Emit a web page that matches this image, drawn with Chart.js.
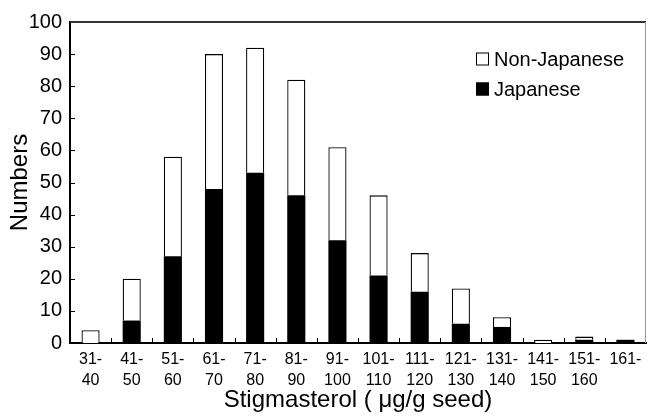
<!DOCTYPE html>
<html>
<head>
<meta charset="utf-8">
<script src="https://cdn.jsdelivr.net/npm/chart.js@4.4.1/dist/chart.umd.min.js"></script>
<style>
  html, body { margin: 0; padding: 0; background: #fff; }
  #wrap { width: 648px; height: 418px; }
</style>
</head>
<body>
<div id="wrap"><canvas id="chart" width="648" height="418"></canvas></div>
<script>
const ranges = [
  ["31-", "40"], ["41-", "50"], ["51-", "60"], ["61-", "70"], ["71-", "80"],
  ["81-", "90"], ["91-", "100"], ["101-", "110"], ["111-", "120"], ["121-", "130"],
  ["131-", "140"], ["141-", "150"], ["151-", "160"], ["161-", ""]
];
const japanese = [0, 7, 27, 48, 53, 46, 32, 21, 16, 6, 5, 0, 1, 1];
const nonJapanese = [4, 13, 31, 42, 39, 36, 29, 25, 12, 11, 3, 1, 1, 0];
const yTicks = [0, 10, 20, 30, 40, 50, 60, 70, 80, 90, 100];

const FONT = "'Liberation Sans', Arial, Helvetica, sans-serif";

// inward tick marks, top/right frame and the legend box
const framePlugin = {
  id: "frame",
  afterDraw(chart) {
    const ctx = chart.ctx;
    const { left, right, top, bottom } = chart.chartArea;
    const x = chart.scales.x;
    const y = chart.scales.y;
    ctx.save();
    ctx.strokeStyle = "#000";
    ctx.lineWidth = 1;
    ctx.beginPath();
    for (let i = 1; i < ranges.length; i++) {
      const px = Math.round(x.getPixelForValue(i - 0.5)) + 0.5;
      ctx.moveTo(px, bottom);
      ctx.lineTo(px, bottom - 5);
    }
    yTicks.forEach(v => {
      const py = Math.round(y.getPixelForValue(v)) + 0.5;
      ctx.moveTo(left, py);
      ctx.lineTo(left + 5, py);
    });
    ctx.stroke();

    ctx.strokeStyle = "#333";
    ctx.lineWidth = 2;
    ctx.beginPath();
    ctx.moveTo(left, top);
    ctx.lineTo(right, top);
    ctx.stroke();
    ctx.strokeStyle = "#999";
    ctx.lineWidth = 1;
    ctx.beginPath();
    ctx.moveTo(right - 0.5, top);
    ctx.lineTo(right - 0.5, bottom);
    ctx.stroke();

    // legend
    const items = [chart.data.datasets[1], chart.data.datasets[0]];
    ctx.font = "20px " + FONT;
    ctx.textBaseline = "middle";
    ctx.textAlign = "left";
    items.forEach((ds, i) => {
      const cy = 59 + i * 30;
      ctx.fillStyle = ds.backgroundColor;
      ctx.fillRect(476, cy - 6.5, 13, 13);
      ctx.strokeStyle = "#000";
      ctx.lineWidth = 1;
      ctx.strokeRect(476.5, cy - 6, 12, 12);
      ctx.fillStyle = "#000";
      ctx.fillText(ds.label, 494, cy + 1);
    });
    ctx.restore();
  }
};

new Chart(document.getElementById("chart"), {
  type: "bar",
  data: {
    labels: ranges,
    datasets: [
      {
        label: "Japanese",
        data: japanese,
        backgroundColor: "#000",
        borderWidth: 0,
        barPercentage: 0.44,
        categoryPercentage: 1
      },
      {
        label: "Non-Japanese",
        data: nonJapanese,
        backgroundColor: "#fff",
        borderColor: "#000",
        borderWidth: 1.3,
        borderSkipped: "bottom",
        barPercentage: 0.44,
        categoryPercentage: 1
      }
    ]
  },
  options: {
    responsive: false,
    animation: false,
    layout: { padding: { top: 22, right: 2, left: 0, bottom: 0 } },
    plugins: {
      legend: { display: false },
      tooltip: { enabled: false }
    },
    scales: {
      x: {
        stacked: true,
        grid: { display: false, drawTicks: false },
        border: { display: true, color: "#000", width: 2 },
        ticks: {
          color: "#000",
          maxRotation: 0,
          autoSkip: false,
          padding: 6,
          font: { family: FONT, size: 16, lineHeight: 1.3 }
        },
        title: {
          display: true,
          text: "Stigmasterol ( \u03bcg/g seed)",
          color: "#000",
          font: { family: FONT, size: 24, lineHeight: 1.2 },
          padding: { top: 0, bottom: 3 }
        },
        afterFit(scale) { scale.height = 75; }
      },
      y: {
        stacked: true,
        min: 0,
        max: 100,
        grid: { display: false, drawTicks: false },
        border: { display: true, color: "#000", width: 2 },
        ticks: {
          stepSize: 10,
          color: "#000",
          padding: 8,
          font: { family: FONT, size: 20 }
        },
        title: {
          display: true,
          text: "Numbers",
          color: "#000",
          font: { family: FONT, size: 24, lineHeight: 1.2 },
          padding: { top: 6, bottom: 0 }
        },
        afterFit(scale) { scale.width = 70; }
      }
    }
  },
  plugins: [framePlugin]
});
</script>
</body>
</html>
